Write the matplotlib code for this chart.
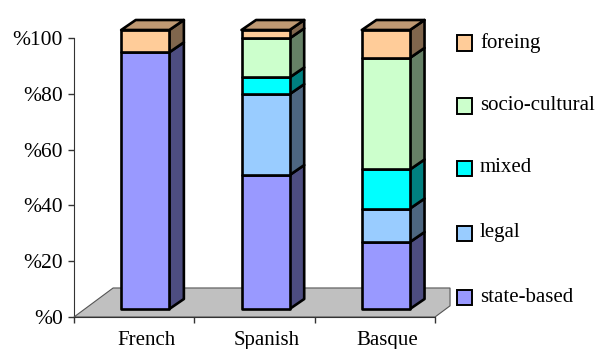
import numpy as np
import matplotlib
matplotlib.use("Agg")
import matplotlib.pyplot as plt
from matplotlib.patches import Polygon, Rectangle
from matplotlib.colors import to_rgb

plt.rcParams['font.family'] = ['Liberation Serif', 'DejaVu Serif']

categories = ['French', 'Spanish', 'Basque']
series_names = ['state-based', 'legal', 'mixed', 'socio-cultural', 'foreing']
state_based = [92, 48, 24]
legal = [0, 29, 12]
mixed = [0, 6, 14]
socio_cultural = [0, 14, 40]
foreing = [8, 3, 10]
series = [state_based, legal, mixed, socio_cultural, foreing]
colors = ['#9999FF', '#99CCFF', '#00FFFF', '#CCFFCC', '#FFCC99']
yticks = [0, 20, 40, 60, 80, 100]
ytick_labels = ['%' + str(v) for v in yticks]

W, H = 599, 349
fig = plt.figure(figsize=(W / 100, H / 100), dpi=100)
# plot area in pixels: x 74..435, y 317..38
ax = fig.add_axes([74 / W, (H - 317) / H, 361 / W, 279 / H])
ax.set_xlim(-0.5, 2.5)
ax.set_ylim(0, 100)

# 3d offsets in data units
fdx, fdy = 0.325, 10.4      # floor depth
ox, oy = 0.092, 2.87        # bar front plane
bdx, bdy = 0.121, 3.58      # bar depth
bw = 0.40


def shade(c, k):
    r, g, b = to_rgb(c)
    return (r * k, g * k, b * k)


# floor
x0, x1 = -0.5, 2.5
xr = x1 + 0.125
floor = Polygon([(x0, 0), (x0 + fdx, fdy), (xr, fdy),
                 (xr, 0.125 * fdy / fdx), (x1, 0)],
                closed=True, facecolor='#C0C0C0', edgecolor='#555555',
                lw=0.8, clip_on=False, zorder=1)
ax.add_patch(floor)

lw = 1.9
for i in range(len(categories)):
    left = i - bw / 2 + ox
    right = left + bw
    bottom = 0
    top_seg = max(j for j in range(len(series)) if series[j][i] > 0)
    for j, vals in enumerate(series):
        v = vals[i]
        if v <= 0:
            continue
        b = bottom + oy
        t = bottom + v + oy
        front = Polygon([(left, b), (right, b), (right, t), (left, t)],
                        facecolor=colors[j], edgecolor='black', lw=lw,
                        joinstyle='round', clip_on=False, zorder=3)
        side = Polygon([(right, b), (right + bdx, b + bdy),
                        (right + bdx, t + bdy), (right, t)],
                       facecolor=shade(colors[j], 0.5), edgecolor='black',
                       lw=lw, joinstyle='round', clip_on=False, zorder=3)
        ax.add_patch(side)
        ax.add_patch(front)
        if j == top_seg:
            lid = Polygon([(left, t), (right, t), (right + bdx, t + bdy),
                           (left + bdx, t + bdy)],
                          facecolor=shade(colors[j], 0.75), edgecolor='black',
                          lw=lw, joinstyle='round', clip_on=False, zorder=3)
            ax.add_patch(lid)
        bottom += v

for s in ['top', 'right']:
    ax.spines[s].set_visible(False)
ax.spines['left'].set_color('#333333')
ax.spines['bottom'].set_color('#333333')
ax.spines['left'].set_zorder(0.5)
ax.set_yticks(yticks, ytick_labels, fontsize=15.5)
ax.tick_params(axis='y', length=4, width=1, color='#333333', pad=4)
ax.set_xticks([-0.5, 0.5, 1.5, 2.5], ['', '', '', ''])
ax.tick_params(axis='x', which='major', length=4, width=1, color='#333333')
ax.set_xticks([i + 0.1 for i in range(len(categories))], categories,
              minor=True, fontsize=15)
ax.tick_params(axis='x', which='minor', length=0, pad=10)

# legend, drawn from the top entry down
rows = [297, 233, 168, 106, 43]
for j, name in enumerate(series_names):
    yc = rows[j]
    fig.patches.append(Rectangle(((457) / W, (H - yc - 7.5) / H), 15 / W, 15 / H,
                                 transform=fig.transFigure,
                                 facecolor=colors[j], edgecolor='black', lw=1.4))
    fig.text(480 / W, (H - yc) / H, name, fontsize=15, va='center', ha='left')

fig.savefig('out.png', dpi=100)
